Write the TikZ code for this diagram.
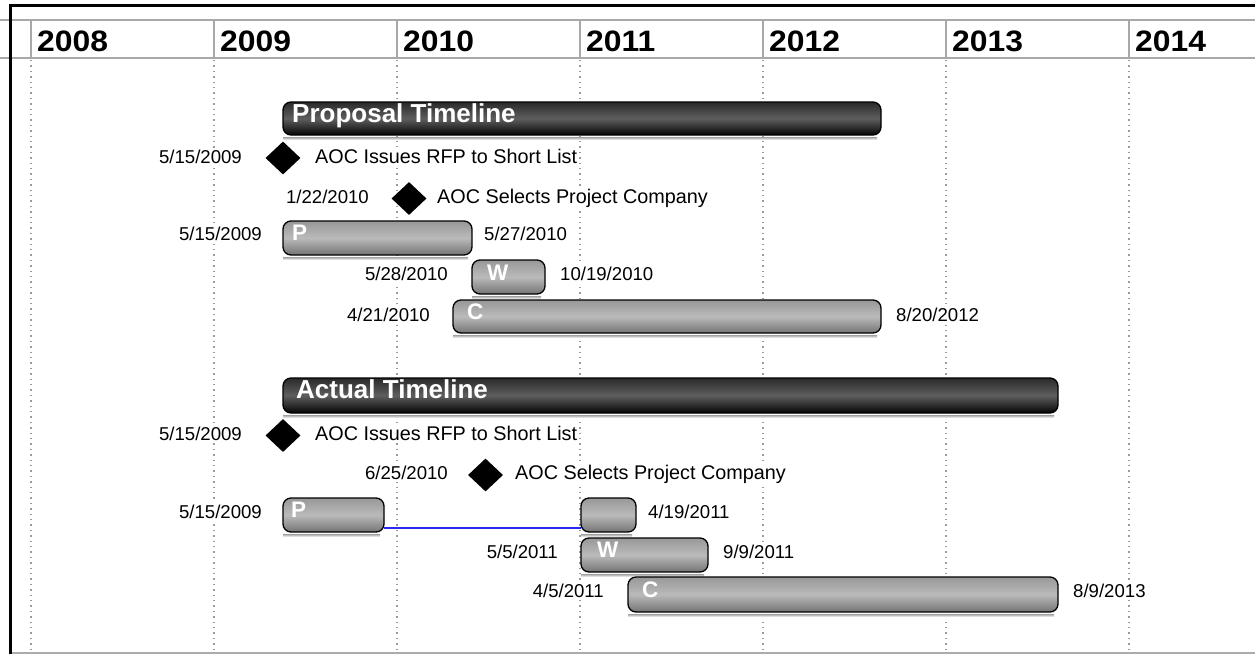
\documentclass[tikz,border=0pt]{standalone}
\usepackage{fontspec}
\setmainfont{Liberation Sans}
\usetikzlibrary{shapes.geometric}
\definecolor{gtop}{HTML}{989898}
\definecolor{gmid}{HTML}{BABABA}
\definecolor{gbot}{HTML}{747474}
\definecolor{dtop}{HTML}{2A2A2A}
\definecolor{dmid}{HTML}{5E5E5E}
\definecolor{dbot}{HTML}{050505}
\definecolor{hdrgray}{HTML}{A8A8A8}
\definecolor{gridgray}{HTML}{9A9A9A}
\definecolor{linkblue}{RGB}{40,40,240}
\begin{document}
\begin{tikzpicture}[x=1pt,y=-1pt,
  gbar/.style={draw=black, line width=1.3pt, rounded corners=8pt,
    top color=gtop, bottom color=gbot, middle color=gmid,
    minimum height=34pt, anchor=north west, inner sep=0pt, outer sep=0pt},
  dbar/.style={draw=black, line width=1.3pt, rounded corners=8pt,
    top color=dtop, bottom color=dbot, middle color=dmid,
    minimum height=34pt, anchor=north west, inner sep=0pt, outer sep=0pt},
  shadowbar/.style={top color=gray!75, bottom color=white, draw=none},
  milestone/.style={diamond, fill=black, draw=none, inner sep=0pt,
    minimum width=35pt, minimum height=33pt},
  datetxt/.style={font=\fontsize{18.6}{22}\selectfont, fill=white, inner sep=2pt},
  evtxt/.style={font=\fontsize{19.8}{23}\selectfont, fill=white, inner sep=2pt},
  bartitle/.style={font=\bfseries\fontsize{26}{30}\selectfont, text=white, inner sep=0pt, anchor=base west},
  barletter/.style={font=\bfseries\fontsize{22.5}{26}\selectfont, text=white, inner sep=0pt, anchor=base west},
  yeartxt/.style={font=\bfseries\fontsize{29.5}{34}\selectfont, inner sep=0pt, anchor=base west},
  gridline/.style={draw=gridgray, line width=1.2pt, dash pattern=on 1.4pt off 4pt},
  hdrline/.style={draw=hdrgray, line width=1.4pt},
  linkline/.style={draw=linkblue, line width=2pt}
]
\useasboundingbox (0,0) rectangle (1255,654);
\fill[white] (0,0) rectangle (1255,654);

% header
\draw[hdrline] (0,20) -- (1255,20);
\draw[hdrline] (0,58) -- (1255,58);
\foreach \x/\yr in {31/2008,214/2009,397/2010,580/2011,763/2012,946/2013,1129/2014}{
  \draw[hdrline] (\x,20) -- (\x,58);
  \draw[gridline] (\x,60) -- (\x,650);
  \node[yeartxt] at (\x+6,51) {\scalebox{1.08}[1]{\yr}};
}

% frame
\draw[gray!65, line width=2.5pt] (10.5,652.8) -- (1255,652.8);
\draw[black, line width=2.6pt] (1255,5.5) -- (10.5,5.5) -- (10.5,654);

% ---------- Proposal timeline ----------
\node[dbar, minimum width=598pt, minimum height=33pt] (prop) at (283,102) {};
\shade[shadowbar] ([yshift=-2pt]prop.south west) rectangle ([xshift=-4pt,yshift=-5pt]prop.south east);
\node[bartitle] (propt) at (292,122) {Proposal Timeline};

\node[milestone] (pd1) at (283,158) {};
\node[datetxt, anchor=base east] (pd1d) at (244,163) {5/15/2009};
\node[evtxt, anchor=base west] (pd1t) at (313,163) {AOC Issues RFP to Short List};

\node[milestone] (pd2) at (409,198.5) {};
\node[datetxt, anchor=base east] (pd2d) at (371,203.5) {1/22/2010};
\node[evtxt, anchor=base west] (pd2t) at (435,203.5) {AOC Selects Project Company};

\node[gbar, minimum width=189pt] (pp) at (283,221) {};
\shade[shadowbar] ([yshift=-2pt]pp.south west) rectangle ([xshift=-4pt,yshift=-5pt]pp.south east);
\node[barletter] (ppl) at (292,240) {P};
\node[datetxt, anchor=base east] (ppd1) at (264,240.5) {5/15/2009};
\node[datetxt, anchor=base west] (ppd2) at (482,240.5) {5/27/2010};

\node[gbar, minimum width=73pt] (pw) at (472,260) {};
\shade[shadowbar] ([yshift=-2pt]pw.south west) rectangle ([xshift=-4pt,yshift=-5pt]pw.south east);
\node[barletter] (pwl) at (487,280) {W};
\node[datetxt, anchor=base east] (pwd1) at (450,280.5) {5/28/2010};
\node[datetxt, anchor=base west] (pwd2) at (558,280.5) {10/19/2010};

\node[gbar, minimum width=428pt, minimum height=33pt] (pc) at (453,300) {};
\shade[shadowbar] ([yshift=-2pt]pc.south west) rectangle ([xshift=-4pt,yshift=-5pt]pc.south east);
\node[barletter] (pcl) at (467,319) {C};
\node[datetxt, anchor=base east] (pcd1) at (432,321) {4/21/2010};
\node[datetxt, anchor=base west] (pcd2) at (894,321) {8/20/2012};

% ---------- Actual timeline ----------
\node[dbar, minimum width=775pt, minimum height=35pt] (act) at (283,378) {};
\shade[shadowbar] ([yshift=-2pt]act.south west) rectangle ([xshift=-4pt,yshift=-5pt]act.south east);
\node[bartitle] (actt) at (296,398) {Actual Timeline};

\node[milestone] (ad1) at (283,435.5) {};
\node[datetxt, anchor=base east] (ad1d) at (244,440) {5/15/2009};
\node[evtxt, anchor=base west] (ad1t) at (313,440) {AOC Issues RFP to Short List};

\node[milestone] (ad2) at (485.5,475) {};
\node[datetxt, anchor=base east] (ad2d) at (450,479.5) {6/25/2010};
\node[evtxt, anchor=base west] (ad2t) at (513,479.5) {AOC Selects Project Company};

\node[gbar, minimum width=101pt] (ap) at (283,498) {};
\shade[shadowbar] ([yshift=-2pt]ap.south west) rectangle ([xshift=-4pt,yshift=-5pt]ap.south east);
\node[barletter] (apl) at (291,517) {P};
\node[datetxt, anchor=base east] (apd1) at (264,518) {5/15/2009};

\node[gbar, minimum width=55pt] (ap2) at (581,498) {};
\shade[shadowbar] ([yshift=-2pt]ap2.south west) rectangle ([xshift=-4pt,yshift=-5pt]ap2.south east);
\node[datetxt, anchor=base west] (ap2d) at (646,518.5) {4/19/2011};

\draw[linkline] ([yshift=4.5pt]ap.south east) -- ([yshift=4.5pt]ap2.south west);

\node[gbar, minimum width=127pt] (aw) at (581,538) {};
\shade[shadowbar] ([yshift=-2pt]aw.south west) rectangle ([xshift=-4pt,yshift=-5pt]aw.south east);
\node[barletter] (awl) at (597,557.5) {W};
\node[datetxt, anchor=base east] (awd1) at (560,558) {5/5/2011};
\node[datetxt, anchor=base west] (awd2) at (721,558) {9/9/2011};

\node[gbar, minimum width=430pt, minimum height=35pt] (ac) at (628,577) {};
\shade[shadowbar] ([yshift=-2pt]ac.south west) rectangle ([xshift=-4pt,yshift=-5pt]ac.south east);
\node[barletter] (acl) at (642,597) {C};
\node[datetxt, anchor=base east] (acd1) at (606,597.5) {4/5/2011};
\node[datetxt, anchor=base west] (acd2) at (1071,597.5) {8/9/2013};
\end{tikzpicture}
\end{document}
